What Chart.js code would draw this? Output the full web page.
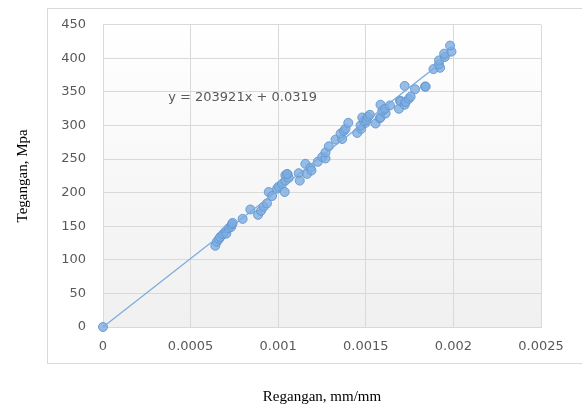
<html>

<head>
    <title>Tegangan Regangan</title>
    <script src="https://cdn.jsdelivr.net/npm/chart.js@4.4.1/dist/chart.umd.min.js"></script>
    <style>
        body { margin: 0; background: #fff; }
    </style>
</head>

<body>
    <canvas id="plotCanvas" width="582" height="406"></canvas>
    <script>
        // ========= Data ================================

        const strain = [
            0, 0.000641, 0.00065, 0.000662, 0.000669, 0.000685, 0.000698, 0.000704,
            0.000717, 0.000732, 0.000736, 0.00074, 0.000797, 0.000841, 0.000885,
            0.000902, 0.000917, 0.000936, 0.000946, 0.000965, 0.000994, 0.001002,
            0.001022, 0.001041, 0.001037, 0.001041, 0.001054, 0.00106, 0.001051,
            0.001117, 0.001123, 0.001155, 0.001165, 0.001184, 0.00119, 0.001226,
            0.001251, 0.00127, 0.00127, 0.001289, 0.001327, 0.001365, 0.001356,
            0.001375, 0.001384, 0.0014, 0.001451, 0.001474, 0.00147, 0.001499,
            0.001489, 0.00148, 0.001504, 0.001512, 0.001523, 0.001556, 0.00158,
            0.001584, 0.001613, 0.001594, 0.001584, 0.001609, 0.001638, 0.001689,
            0.001695, 0.001699, 0.001722, 0.001727, 0.001746, 0.001756, 0.001722,
            0.001781, 0.001838, 0.001842, 0.001886, 0.001924, 0.001918, 0.001918,
            0.001951, 0.001947, 0.001989, 0.001981,
        ]
        const stress = [
            0, 121, 127, 131, 134, 138, 142, 139,
            147, 149, 153, 155, 161, 175, 167,
            173, 179, 184, 201, 195, 206, 209,
            213, 226, 201, 218, 227, 222, 228,
            229, 218, 243, 228, 237, 233, 246,
            253, 251, 260, 269, 279, 280, 288,
            292, 295, 304, 289, 295, 300, 304,
            307, 312, 308, 313, 316, 303, 311,
            312, 318, 322, 331, 325, 330, 325,
            337, 336, 331, 335, 340, 343, 359,
            354, 358, 358, 384, 386, 391, 397,
            402, 407, 410, 419,
        ]

        // linear trend line ends (y = 203921x + 0.0319)
        const trendStrain = [0, 0.00199]
        const trendStress = [0.0319, 405.8]
        const trendLabel = 'y = 203921x + 0.0319'

        const xTickLabels = ['0', '0.0005', '0.001', '0.0015', '0.002', '0.0025']
        const yTickLabels = ['0', '50', '100', '150', '200', '250', '300', '350', '400', '450']

        // ========= Chart setup ==========

        const tickFont = { family: 'DejaVu Sans', size: 13 }
        const titleFont = { family: 'Liberation Serif', size: 15 }

        const backdrop = {
            id: 'backdrop',
            beforeDraw(chart) {
                const { ctx, chartArea: a } = chart
                ctx.save()
                ctx.strokeStyle = '#d9d9d9'
                ctx.lineWidth = 1
                ctx.strokeRect(47.5, 8.5, 600, 355)
                const g = ctx.createLinearGradient(0, a.top, 0, a.bottom)
                g.addColorStop(0, '#ffffff')
                g.addColorStop(1, '#f0f0f0')
                ctx.fillStyle = g
                ctx.fillRect(a.left, a.top, a.right - a.left, a.bottom - a.top)
                ctx.restore()
            },
            afterDatasetsDraw(chart) {
                const { ctx, scales } = chart
                ctx.save()
                ctx.font = '13px "DejaVu Sans"'
                ctx.fillStyle = '#595959'
                ctx.textBaseline = 'alphabetic'
                ctx.fillText(trendLabel, scales.x.getPixelForValue(0.000372), scales.y.getPixelForValue(336))
                ctx.restore()
            },
        }

        new Chart(document.getElementById('plotCanvas'), {
            type: 'scatter',
            data: {
                datasets: [
                    {
                        type: 'line',
                        data: trendStrain.map((x, i) => ({ x, y: trendStress[i] })),
                        borderColor: '#7aaadc',
                        borderWidth: 1.3,
                        pointRadius: 0,
                        order: 1,
                    },
                    {
                        data: strain.map((x, i) => ({ x, y: stress[i] })),
                        backgroundColor: 'rgba(125,172,224,0.8)',
                        borderColor: 'rgba(95,150,210,0.9)',
                        borderWidth: 1,
                        pointRadius: 4.5,
                        clip: false,
                        order: 2,
                    },
                ],
            },
            options: {
                responsive: false,
                animation: false,
                layout: { padding: { top: 24, right: 41, left: 10, bottom: 0 } },
                plugins: { legend: { display: false }, tooltip: { enabled: false } },
                scales: {
                    x: {
                        type: 'linear',
                        min: 0,
                        max: 0.0025,
                        afterFit: s => { s.height = 79 },
                        grid: { color: '#d9d9d9', drawTicks: false },
                        border: { color: '#d9d9d9' },
                        ticks: {
                            stepSize: 0.0005,
                            padding: 12,
                            color: '#595959',
                            font: tickFont,
                            callback: (v, i) => xTickLabels[i],
                        },
                        title: {
                            display: true,
                            text: 'Regangan, mm/mm',
                            color: '#000',
                            font: titleFont,
                            padding: { top: 4, bottom: 0 },
                        },
                    },
                    y: {
                        min: 0,
                        max: 450,
                        afterFit: s => { s.width = 93 },
                        grid: { color: '#d9d9d9', drawTicks: false },
                        border: { color: '#d9d9d9' },
                        ticks: {
                            stepSize: 50,
                            padding: 17,
                            color: '#595959',
                            font: tickFont,
                            callback: (v, i) => yTickLabels[i],
                        },
                        title: {
                            display: true,
                            text: 'Tegangan, Mpa',
                            color: '#000',
                            font: titleFont,
                            padding: { top: 4, bottom: 0 },
                        },
                    },
                },
            },
            plugins: [backdrop],
        })
    </script>
</body>

</html>
